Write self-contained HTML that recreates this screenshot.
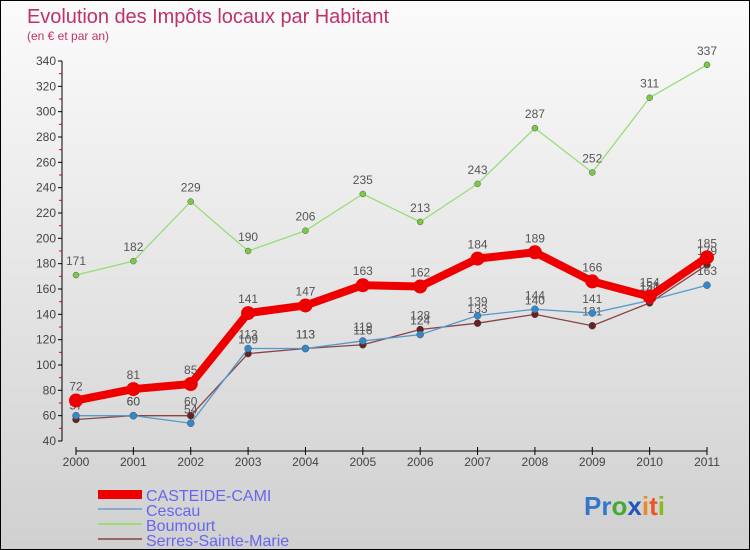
<!DOCTYPE html>
<html><head><meta charset="utf-8"><style>
body{margin:0}
#c{width:750px;height:550px;position:relative;box-sizing:border-box;border:1px solid #000;background:linear-gradient(#fbfbfb,#d0d0d0);font-family:"Liberation Sans",sans-serif;overflow:hidden}
</style></head><body>
<div id="c">
<svg id="s" width="750" height="550" style="position:absolute;left:0;top:0">
<text x="26" y="22" font-size="20" fill="#c0306a" textLength="362">Evolution des Impôts locaux par Habitant</text>
<text x="26" y="39" font-size="12" fill="#c0306a">(en € et par an)</text>
<g id="axes"></g><g id="series"></g>
<g font-size="16" fill="#6666ee">
<rect x="97" y="489" width="44" height="9" fill="#ee0000"/>
<text x="145" y="500">CASTEIDE-CAMI</text>
<rect x="97" y="507" width="44" height="2" fill="#88aacc"/>
<text x="145" y="515">Cescau</text>
<rect x="97" y="522" width="44" height="2" fill="#99dd77"/>
<text x="145" y="530">Boumourt</text>
<rect x="97" y="537" width="44" height="2" fill="#996666"/>
<text x="145" y="545">Serres-Sainte-Marie</text>
</g>
<g font-size="26" font-weight="bold">
<text x="583" y="514"><tspan fill="#3377cc">Pr</tspan><tspan fill="#44aa33">o</tspan><tspan fill="#2255bb">x</tspan><tspan fill="#ee8822">i</tspan><tspan fill="#ee5522">t</tspan><tspan fill="#88bb22">i</tspan></text>
</g>
</svg>
</div>
<script>
const years=["2000","2001","2002","2003","2004","2005","2006","2007","2008","2009","2010","2011"];
const yTicks=[40,60,80,100,120,140,160,180,200,220,240,260,280,300,320,340];
const casteide=[72,81,85,141,147,163,162,184,189,166,154,185];
const cescau=[60,60,54,113,113,119,124,139,144,141,151,163];
const boumourt=[171,182,229,190,206,235,213,243,287,252,311,337];
const serres=[57,60,60,109,113,116,128,133,140,131,149,179];
const NS="http://www.w3.org/2000/svg";
const X=i=>75+i*(706-75)/(years.length-1);
const Y=v=>440-(v-40)*380/300;
function mk(t,a,p){const e=document.createElementNS(NS,t);for(const k in a)e.setAttribute(k,a[k]);p.appendChild(e);return e;}
const ax=document.getElementById('axes');
let l=mk('line',{x1:61,y1:Y(340),x2:61,y2:440,stroke:'#000'},ax);


yTicks.forEach(v=>{
 mk('line',{x1:57,y1:Y(v),x2:61,y2:Y(v),stroke:'#000'},ax);
 if(v<340) mk('line',{x1:58,y1:Y(v+10),x2:61,y2:Y(v+10),stroke:'#e00'},ax);
 const t=mk('text',{x:55,y:Y(v)+4,'text-anchor':'end','font-size':12,fill:'#444'},ax);
 t.textContent=v;
 
 
});
l=mk('line',{x1:X(0),y1:450,x2:X(11),y2:450,stroke:'#000'},ax);


years.forEach((y,i)=>{
 mk('line',{x1:X(i),y1:446,x2:X(i),y2:454,stroke:'#000'},ax);
 const t=mk('text',{x:X(i),y:465,'text-anchor':'middle','font-size':12,fill:'#444'},ax);
 t.textContent=y;
 
 
});
const sg=document.getElementById('series');
function draw(name,data,color,w,r,dot){
 const g=mk('g',{},sg);
 
 
 const pl=mk('polyline',{points:data.map((v,i)=>X(i)+','+Y(v)).join(' '),fill:'none',stroke:color,'stroke-width':w,'stroke-linejoin':'round'},g);
 
 
 data.forEach((v,i)=>{
  const c=mk('circle',{cx:X(i),cy:Y(v),r:r,fill:dot,stroke:'#555','stroke-width':r>5?0:0.5},g);
  
  
  const t=mk('text',{x:X(i),y:Y(v)-10,'text-anchor':'middle','font-size':12,fill:'#555'},g);
  t.textContent=v;
  
  
 });
}
draw('boumourt',boumourt,'#99dd77',1.3,3,'#77cc44');
draw('serres-sainte-marie',serres,'#884444',1.3,3.5,'#662222');
draw('cescau',cescau,'#5599cc',1.3,3.5,'#3388cc');
draw('casteide-cami',casteide,'#ee0000',8,7,'#ee0000');
</script>
</body></html>
